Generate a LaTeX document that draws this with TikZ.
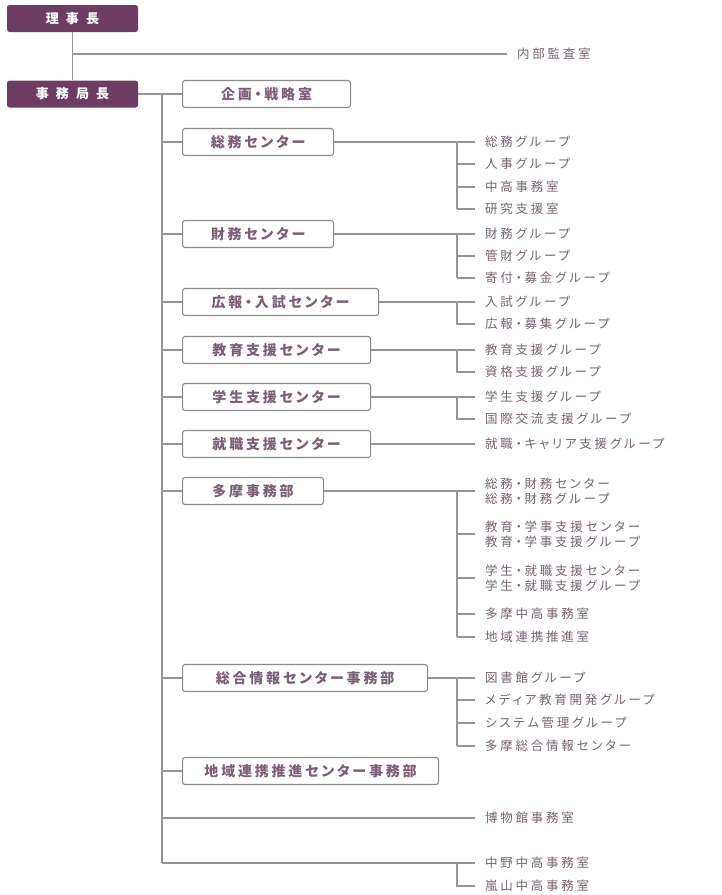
\documentclass[tikz,border=0pt]{standalone}
\usepackage{fontspec}
\newfontfamily\jpbox[LetterSpace=20,RawFeature=+palt]{Noto Sans CJK JP}
\newfontfamily\jpsub[LetterSpace=22,RawFeature=+palt]{Noto Sans CJK JP}
\newfontfamily\jphead[LetterSpace=55]{Noto Sans CJK JP}
\definecolor{headfill}{RGB}{108,60,100}
\definecolor{linegray}{RGB}{150,148,150}
\definecolor{boxgray}{RGB}{140,138,140}
\definecolor{boxtext}{RGB}{124,94,120}
\definecolor{subtext}{RGB}{118,98,116}
\begin{document}
\begin{tikzpicture}[x=1pt,y=-1pt,
  line/.style={draw=linegray,line width=1.2pt},
  headbox/.style={fill=headfill,rounded corners=2.5pt,minimum width=131pt,minimum height=27pt,inner sep=0pt,text=white,font=\jphead\bfseries\fontsize{13}{15}\selectfont},
  unitbox/.style={draw=boxgray,line width=1.1pt,fill=white,rounded corners=2.5pt,minimum height=27pt,inner sep=0pt,text=boxtext,font=\jpbox\bfseries\fontsize{14}{16}\selectfont,anchor=west},
  item/.style={anchor=west,inner xsep=10pt,inner ysep=0pt,text=subtext,font=\jpsub\fontsize{12.5}{15}\selectfont,align=left}]
\useasboundingbox (0,0) rectangle (722,895);
% heads
\node[headbox] (riji) at (72.5,18.5) {理事長};
\node[headbox] (jimu) at (72.5,94) {事務局長};
\node[item] (naibu) at (507,54) {内部監査室};
\draw[line] (riji.south) -- (jimu.north);
\draw[line] (riji.south |- naibu.west) -- (naibu.west);
% trunk
\coordinate (t0) at (162,94);
\coordinate (t1) at (162,863);
\coordinate (jx) at (457,0);
% units
\node[unitbox,minimum width=168pt] (kikaku) at (182,94) {企画・戦略室};
\node[unitbox,minimum width=151pt] (soumu) at (182,142) {総務センター};
\node[unitbox,minimum width=151pt] (zaimu) at (182,234) {財務センター};
\node[unitbox,minimum width=196pt] (kouhou) at (182,302) {広報・入試センター};
\node[unitbox,minimum width=188pt] (kyouiku) at (182,350) {教育支援センター};
\node[unitbox,minimum width=188pt] (gakusei) at (182,397) {学生支援センター};
\node[unitbox,minimum width=188pt] (shuu) at (182,444) {就職支援センター};
\node[unitbox,minimum width=141pt] (tama) at (182,491) {多摩事務部};
\node[unitbox,minimum width=245pt] (sougou) at (182,678) {総合情報センター事務部};
\node[unitbox,minimum width=256pt] (chiiki) at (182,771) {地域連携推進センター事務部};
\draw[line] (jimu.east) -- (kikaku.west);
\draw[line] (t0) -- (t1);
\foreach \u in {soumu,zaimu,kouhou,kyouiku,gakusei,shuu,tama,sougou,chiiki}
  \draw[line] (\u.west -| t0) -- (\u.west);
% items
\node[item] (s1) at (475,142) {総務グループ};
\node[item] (s2) at (475,164) {人事グループ};
\node[item] (s3) at (475,187) {中高事務室};
\node[item] (s4) at (475,209) {研究支援室};
\node[item] (z1) at (475,234) {財務グループ};
\node[item] (z2) at (475,256) {管財グループ};
\node[item] (z3) at (475,278) {寄付・募金グループ};
\node[item] (k1) at (475,302) {入試グループ};
\node[item] (k2) at (475,324) {広報・募集グループ};
\node[item] (e1) at (475,350) {教育支援グループ};
\node[item] (e2) at (475,372) {資格支援グループ};
\node[item] (g1) at (475,397) {学生支援グループ};
\node[item] (g2) at (475,419) {国際交流支援グループ};
\node[item] (c1) at (475,444) {就職・キャリア支援グループ};
\node[item] (m1) at (475,491) {総務・財務センター\\総務・財務グループ};
\node[item] (m2) at (475,534) {教育・学事支援センター\\教育・学事支援グループ};
\node[item] (m3) at (475,578) {学生・就職支援センター\\学生・就職支援グループ};
\node[item] (m4) at (475,614) {多摩中高事務室};
\node[item] (m5) at (475,637) {地域連携推進室};
\node[item] (i1) at (475,678) {図書館グループ};
\node[item] (i2) at (475,700) {メディア教育開発グループ};
\node[item] (i3) at (475,723) {システム管理グループ};
\node[item] (i4) at (475,746) {多摩総合情報センター};
\node[item] (h1) at (475,818) {博物館事務室};
\node[item] (n1) at (475,863) {中野中高事務室};
\node[item] (n2) at (475,886) {嵐山中高事務室};
% branches
\draw[line] (soumu.east) -- (s1.west);
\draw[line] (jx |- s1.west) -- (jx |- s4.west);
\foreach \i in {s2,s3,s4} \draw[line] (jx |- \i.west) -- (\i.west);
\draw[line] (zaimu.east) -- (z1.west);
\draw[line] (jx |- z1.west) -- (jx |- z3.west);
\foreach \i in {z2,z3} \draw[line] (jx |- \i.west) -- (\i.west);
\draw[line] (kouhou.east) -- (k1.west);
\draw[line] (jx |- k1.west) -- (jx |- k2.west) -- (k2.west);
\draw[line] (kyouiku.east) -- (e1.west);
\draw[line] (jx |- e1.west) -- (jx |- e2.west) -- (e2.west);
\draw[line] (gakusei.east) -- (g1.west);
\draw[line] (jx |- g1.west) -- (jx |- g2.west) -- (g2.west);
\draw[line] (shuu.east) -- (c1.west);
\draw[line] (tama.east) -- (m1.west);
\draw[line] (jx |- m1.west) -- (jx |- m5.west);
\foreach \i in {m2,m3,m4,m5} \draw[line] (jx |- \i.west) -- (\i.west);
\draw[line] (sougou.east) -- (i1.west);
\draw[line] (jx |- i1.west) -- (jx |- i4.west);
\foreach \i in {i2,i3,i4} \draw[line] (jx |- \i.west) -- (\i.west);
\draw[line] (h1.west -| t0) -- (h1.west);
\draw[line] (t1) -- (n1.west);
\draw[line] (jx |- n1.west) -- (jx |- n2.west) -- (n2.west);
\end{tikzpicture}
\end{document}
